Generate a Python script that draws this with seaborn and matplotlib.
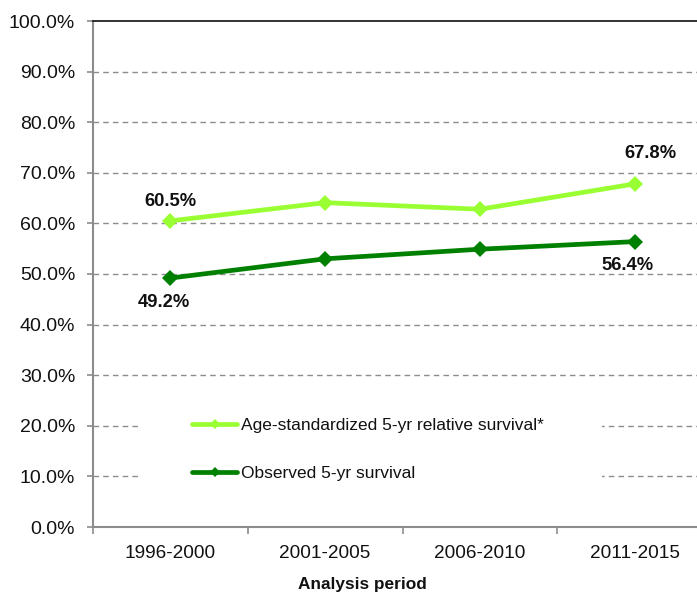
import matplotlib
matplotlib.use("Agg")
import matplotlib.pyplot as plt
import seaborn as sns
import pandas as pd
from matplotlib.patches import Rectangle
from matplotlib.lines import Line2D
from matplotlib.ticker import FixedLocator, FuncFormatter

periods = ["1996-2000", "2001-2005", "2006-2010", "2011-2015"]
relative_survival = [60.5, 64.1, 62.8, 67.8]
observed_survival = [49.2, 53.0, 54.9, 56.4]
series_names = ["Age-standardized 5-yr relative survival*", "Observed 5-yr survival"]
series_colors = ["#99FF33", "#008000"]
y_ticks = [0, 10, 20, 30, 40, 50, 60, 70, 80, 90, 100]

sns.set_theme(style="white")
plt.rcParams["font.family"] = ["Liberation Sans", "DejaVu Sans"]

df = pd.DataFrame({
    "period": periods * 2,
    "pos": list(range(len(periods))) * 2,
    "value": relative_survival + observed_survival,
    "series": [series_names[0]] * len(periods) + [series_names[1]] * len(periods),
})

W, H = 697, 594
fig = plt.figure(figsize=(W / 100, H / 100), dpi=100)
ax = fig.add_axes([93 / W, (H - 527) / H, (712 - 93) / W, (527 - 21) / H])

ax.set_xlim(-0.5, 3.5)
ax.set_ylim(0, 100)

# dashed horizontal gridlines
for t in y_ticks[1:-1]:
    ax.axhline(t, color="#8c8c8c", lw=1.0, ls=(0, (4, 3)), zorder=1)

sns.lineplot(data=df, x="pos", y="value", hue="series", palette=series_colors,
             hue_order=series_names, marker="D", markersize=8, markeredgewidth=0,
             linewidth=3.4, ax=ax, zorder=3, legend=False)

# white backing behind the legend (display pixels, origin bottom-left)
ax.add_patch(Rectangle((140, H - 492), 462, 87, transform=None, facecolor="white",
                       edgecolor="none", zorder=2))

handles = [Line2D([], [], color=c, lw=3.4, marker="D", markersize=5, markeredgewidth=0)
           for c in series_colors]
leg = ax.legend(handles, series_names, loc="upper left",
                bbox_to_anchor=(192 / W, (H - 418) / H), bbox_transform=fig.transFigure,
                frameon=False, fontsize=12.5, handlelength=2.6, handletextpad=0.2,
                labelspacing=1.9, borderpad=0, borderaxespad=0)
for t in leg.get_texts():
    t.set_color("#111111")

# value labels at the first and last points
label_specs = [
    (0, relative_survival[0], 0, 19),
    (3, relative_survival[3], 16, 30),
    (0, observed_survival[0], -7, -24),
    (3, observed_survival[3], -7, -24),
]
for x, v, dx, dy in label_specs:
    ax.annotate(f"{v:.1f}%", (x, v), xytext=(dx, dy), textcoords="offset pixels",
                ha="center", va="center", fontsize=13.2, fontweight="bold",
                color="#111111", zorder=4)

# axes styling
ax.spines["right"].set_visible(False)
ax.spines["top"].set_color("#111111")
ax.spines["top"].set_linewidth(1.2)
ax.spines["left"].set_color("#8c8c8c")
ax.spines["bottom"].set_color("#8c8c8c")
ax.spines["left"].set_linewidth(1.5)
ax.spines["bottom"].set_linewidth(1.5)

ax.yaxis.set_major_locator(FixedLocator(y_ticks))
ax.yaxis.set_major_formatter(FuncFormatter(lambda v, p: f"{v:.1f}%"))
ax.tick_params(axis="y", which="major", left=True, length=4.3, width=1.2,
               color="#8c8c8c", pad=8.5, labelsize=14, labelcolor="#111111")

ax.set_xticks(range(len(periods)))
ax.set_xticklabels(periods)
ax.set_xticks([-0.5, 0.5, 1.5, 2.5, 3.5], minor=True)
ax.tick_params(axis="x", which="major", bottom=True, length=0, pad=13,
               labelsize=13.7, labelcolor="#111111")
ax.tick_params(axis="x", which="minor", bottom=True, length=5, width=1.2,
               color="#8c8c8c")

ax.set_xlabel("")
ax.set_ylabel("")
fig.text(362 / W, (H - 585) / H, "Analysis period", ha="center", va="center",
         fontsize=12.4, fontweight="bold", color="#111111")

fig.savefig("out.png", dpi=100)
